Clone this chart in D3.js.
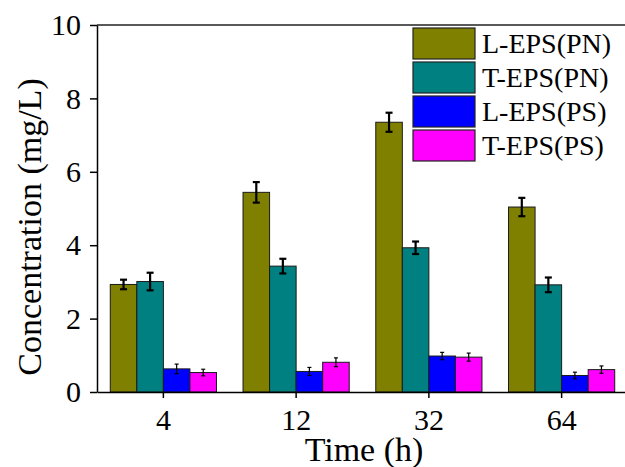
<!DOCTYPE html>
<html>
<head>
<meta charset="utf-8">
<script src="https://cdn.jsdelivr.net/npm/d3@7"></script>
<style>
    html, body { margin: 0; padding: 0; background: #fff; }
    svg { display: block; }
    svg text { font-family: "Liberation Serif", "Times New Roman", serif; }
</style>
</head>
<body>
<svg id="chart" width="625" height="467"></svg>
<script>
// values
const times = ["4", "12", "32", "64"];
const seriesNames = ["L-EPS(PN)", "T-EPS(PN)", "L-EPS(PS)", "T-EPS(PS)"];
const seriesColors = ["#808000", "#008080", "#0000ff", "#ff00ff"];

const lEpsPN = [2.93, 5.44, 7.35, 5.04];
const tEpsPN = [3.01, 3.43, 3.93, 2.92];
const lEpsPS = [0.63, 0.56, 0.98, 0.45];
const tEpsPS = [0.53, 0.81, 0.95, 0.61];

const lEpsPNErr = [0.13, 0.28, 0.26, 0.25];
const tEpsPNErr = [0.24, 0.20, 0.17, 0.20];
const lEpsPSErr = [0.13, 0.11, 0.10, 0.09];
const tEpsPSErr = [0.09, 0.12, 0.11, 0.10];

const yTicks = [0, 2, 4, 6, 8, 10];

const values = [lEpsPN, tEpsPN, lEpsPS, tEpsPS];
const errors = [lEpsPNErr, tEpsPNErr, lEpsPSErr, tEpsPSErr];

const serif = "'Liberation Serif', 'Times New Roman', serif";

const svg = d3.select("#chart");

const plot = { left: 97, right: 628, top: 25, bottom: 392 };

const x = d3.scaleBand()
    .domain(times)
    .range([plot.left, plot.right])
    .paddingInner(0.2)
    .paddingOuter(0.1);

const xInner = d3.scaleBand()
    .domain(seriesNames)
    .range([0, x.bandwidth()]);

const y = d3.scaleLinear()
    .domain([0, 10])
    .range([plot.bottom, plot.top]);

// flat rows for the bars
let rows = [];
times.forEach((t, i) => {
    seriesNames.forEach((s, j) => {
        rows.push({ time: t, series: s, j: j, v: values[j][i], e: errors[j][i] });
    });
});

// bars
svg.append("g")
    .selectAll("rect")
    .data(rows)
    .enter().append("rect")
    .attr("x", d => x(d.time) + xInner(d.series))
    .attr("y", d => y(d.v))
    .attr("width", xInner.bandwidth())
    .attr("height", d => y(0) - y(d.v))
    .attr("fill", d => seriesColors[d.j])
    .attr("stroke", "#1a1a1a")
    .attr("stroke-width", 1);

// error bars - the PS ones are drawn thinner in the original
const errG = svg.append("g").attr("stroke", "#000");
rows.forEach(d => {
    let cx = x(d.time) + xInner(d.series) + xInner.bandwidth() / 2;
    let big = d.j < 2;
    let cap = big ? 3.5 : 2;
    let sw = big ? 2.2 : 1.2;
    errG.append("line")
        .attr("x1", cx).attr("x2", cx)
        .attr("y1", y(d.v - d.e)).attr("y2", y(d.v + d.e))
        .attr("stroke-width", sw);
    [d.v - d.e, d.v + d.e].forEach(yy => {
        errG.append("line")
            .attr("x1", cx - cap).attr("x2", cx + cap)
            .attr("y1", y(yy)).attr("y2", y(yy))
            .attr("stroke-width", sw);
    });
});

// top frame line
svg.append("line")
    .attr("x1", plot.left).attr("x2", plot.right)
    .attr("y1", plot.top).attr("y2", plot.top)
    .attr("stroke", "#222")
    .attr("stroke-width", 1.5);

// axes
const yAxis = svg.append("g")
    .attr("transform", `translate(${plot.left},0)`)
    .call(d3.axisLeft(y).tickValues(yTicks).tickSize(7).tickPadding(9).tickSizeOuter(0));

const xAxis = svg.append("g")
    .attr("transform", `translate(0,${plot.bottom})`)
    .call(d3.axisBottom(x).tickSize(6).tickSizeOuter(0));

[yAxis, xAxis].forEach(ax => {
    ax.attr("font-family", serif).attr("font-size", 30);
    ax.select(".domain").attr("stroke", "#000").attr("stroke-width", 1.5);
    ax.selectAll(".tick line").attr("stroke", "#000").attr("stroke-width", 1.5);
    ax.selectAll("text")
        .attr("fill", "#000")
        .style("font-family", serif)
        .style("font-size", "30px");
});
xAxis.selectAll("text").attr("y", 38).attr("dy", 0);

// axis titles
svg.append("text")
    .attr("transform", "translate(41,227) rotate(-90)")
    .attr("text-anchor", "middle")
    .style("font-family", serif)
    .style("font-size", "34px")
    .text("Concentration (mg/L)");

svg.append("text")
    .attr("x", 364)
    .attr("y", 461)
    .attr("text-anchor", "middle")
    .style("font-family", serif)
    .style("font-size", "34px")
    .text("Time (h)");

// legend
const legend = svg.append("g");
seriesNames.forEach((s, i) => {
    let ly = 28 + i * 34;
    legend.append("rect")
        .attr("x", 413).attr("y", ly)
        .attr("width", 62).attr("height", 31)
        .attr("fill", seriesColors[i])
        .attr("stroke", "#222")
        .attr("stroke-width", 1.2);
    legend.append("text")
        .attr("x", 482)
        .attr("y", ly + 25)
        .style("font-family", serif)
        .style("font-size", "28px")
        .text(s);
});
</script>
</body>
</html>
